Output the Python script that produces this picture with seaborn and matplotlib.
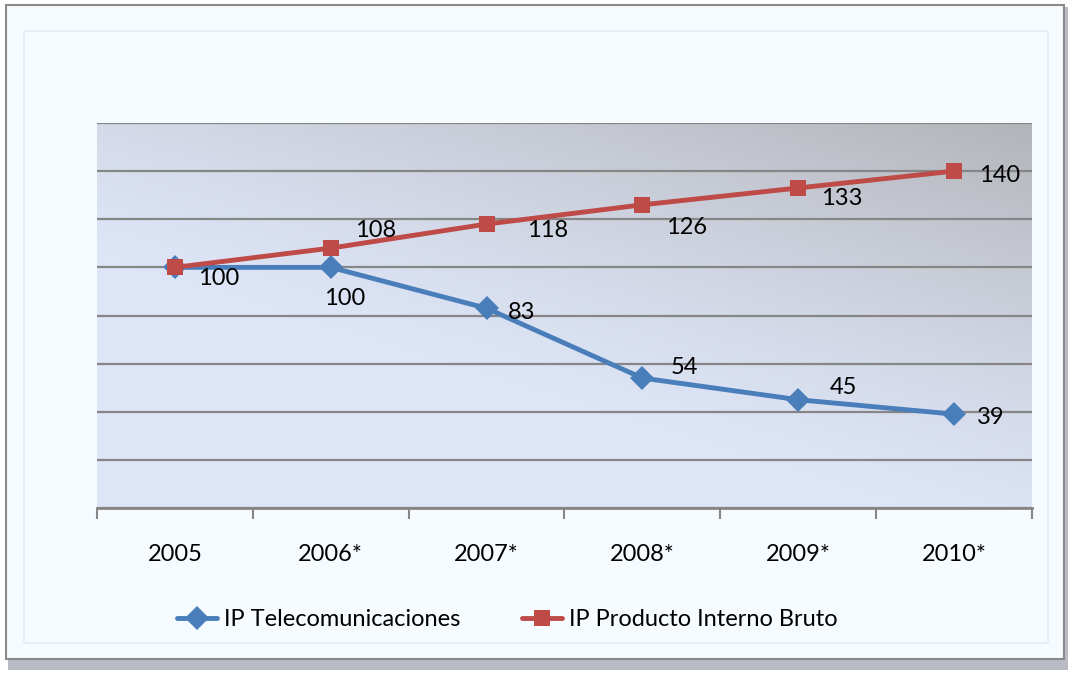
import numpy as np
import pandas as pd
import seaborn as sns
import matplotlib.pyplot as plt
from matplotlib.patches import Rectangle
from matplotlib.lines import Line2D

years = ['2005', '2006*', '2007*', '2008*', '2009*', '2010*']
ip_telecom = [100, 100, 83, 54, 45, 39]
ip_pib = [100, 108, 118, 126, 133, 140]
series_names = ['IP Telecomunicaciones', 'IP Producto Interno Bruto']

df = pd.DataFrame({
    'year': years * 2,
    'value': ip_telecom + ip_pib,
    'series': [series_names[0]] * len(years) + [series_names[1]] * len(years),
})

sns.set_style('white')
plt.rcParams['font.family'] = ['Lato', 'DejaVu Sans']

blue = '#4a7ebb'
red = '#be4b48'
fs = 17

fig = plt.figure(figsize=(10.73, 6.73), dpi=100)
fig.patch.set_facecolor('white')

# outer chart frame with a soft shadow (drawn behind the axes)
fig.patches.append(Rectangle((8 / 1073, 0.005), 1060 / 1073, 0.985, transform=fig.transFigure,
                             facecolor='#b9bcc4', edgecolor='none', zorder=-3))
fig.patches.append(Rectangle((6 / 1073, 14 / 673), 1058 / 1073, 654 / 673, transform=fig.transFigure,
                             facecolor='#f5fbfe', edgecolor='#8a8a8a', linewidth=1.5, zorder=-2))
fig.patches.append(Rectangle((24 / 1073, 30 / 673), 1024 / 1073, 612 / 673,
                             transform=fig.transFigure, facecolor='none',
                             edgecolor='#e6eef2', linewidth=1.2, zorder=-1))

ax = fig.add_axes([97 / 1073, 165 / 673, 935 / 1073, 385 / 673])
ax.set_facecolor('none')

# gradient background of the plot area (light lavender -> grey at top right)
gx, gy = np.meshgrid(np.linspace(0, 1, 200), np.linspace(0, 1, 200))
t = np.clip(0.6 * gx + 0.8 * gy - 0.5, 0, 1) ** 1.3
c0 = np.array([0.87, 0.90, 0.97])
c1 = np.array([0.68, 0.68, 0.69])
img = c0[None, None, :] * (1 - t[..., None]) + c1[None, None, :] * t[..., None]
ax.imshow(img, extent=[0, 1, 0, 1], transform=ax.transAxes, origin='lower',
          aspect='auto', zorder=0)

sns.lineplot(data=df, x='year', y='value', hue='series', style='series',
             markers={series_names[0]: 'D', series_names[1]: 's'}, dashes=False,
             palette={series_names[0]: blue, series_names[1]: red},
             linewidth=3.5, markersize=12, markeredgewidth=0, ax=ax, legend=False, zorder=3)

ax.set_xlim(-0.5, 5.5)
ax.set_ylim(0, 160)
ax.set_yticks(np.arange(0, 161, 20))
ax.yaxis.grid(True, color='#868686', linewidth=1.6)
ax.set_axisbelow(True)
ax.tick_params(axis='y', left=False, labelleft=False)
ax.set_xticks(range(len(years)))
ax.set_xticklabels(years, fontsize=fs, color='black')
ax.set_xticks(np.arange(-0.5, 5.6, 1), minor=True)
ax.tick_params(axis='x', which='major', bottom=False, length=0, pad=26)
ax.tick_params(axis='x', which='minor', bottom=True, length=8, width=1.5,
               color='#868686', direction='out')
for s in ['left', 'right', 'top']:
    ax.spines[s].set_visible(False)
ax.spines['bottom'].set_color('#868686')
ax.spines['bottom'].set_linewidth(2)
ax.set_xlabel('')
ax.set_ylabel('')

# data labels (offsets in pixels)
telecom_off = [(44, -11), (14, -31), (35, -4), (42, 11), (45, 12), (37, -3)]
pib_off = [None, (45, 18), (61, -6), (44, -23), (44, -11), (45, -4)]
for i, v in enumerate(ip_telecom):
    ax.annotate(str(v), (i, v), xytext=telecom_off[i], textcoords='offset pixels',
                ha='center', va='center', fontsize=fs, color='black', zorder=5)
for i, v in enumerate(ip_pib):
    if pib_off[i] is None:
        continue
    ax.annotate(str(v), (i, v), xytext=pib_off[i], textcoords='offset pixels',
                ha='center', va='center', fontsize=fs, color='black', zorder=5)

handles = [
    Line2D([], [], color=blue, marker='D', linewidth=3.5, markersize=12, markeredgewidth=0),
    Line2D([], [], color=red, marker='s', linewidth=3.5, markersize=12, markeredgewidth=0),
]
fig.legend(handles, series_names, loc='center', bbox_to_anchor=(507 / 1073, 1 - 620 / 673),
           ncol=2, frameon=False, fontsize=fs, handlelength=1.7, columnspacing=2.6,
           handletextpad=0.3, labelcolor='black')

fig.savefig('out.png', dpi=100)
